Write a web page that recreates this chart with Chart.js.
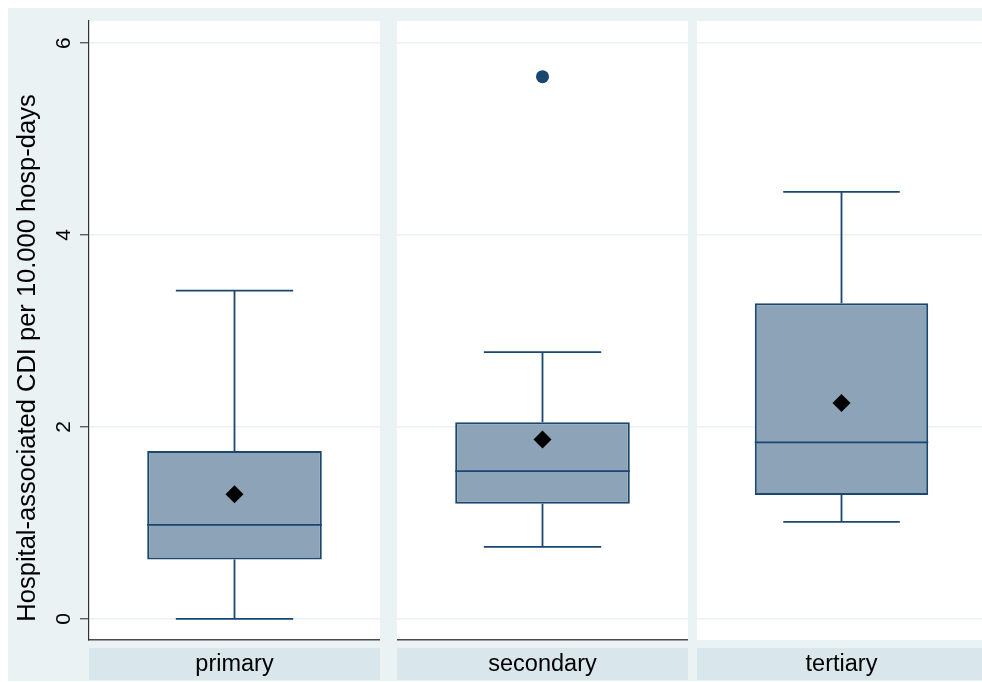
<!DOCTYPE html>
<html>
<head>
<meta charset="utf-8">
<script src="https://cdn.jsdelivr.net/npm/chart.js@4.4.0/dist/chart.umd.min.js"></script>
<style>
  html, body { margin: 0; padding: 0; width: 982px; height: 682px; overflow: hidden; background: #ffffff; }
  #frame { position: absolute; left: 8px; top: 8px; width: 974px; height: 673px; background: #EAF2F3; }
  .panel { position: absolute; top: 0; height: 682px; }
  canvas { display: block; }
</style>
</head>
<body>
<div id="frame"></div>
<div class="panel" style="left:0px;width:380px"><canvas id="p0" width="380" height="682"></canvas></div>
<div class="panel" style="left:397px;width:291px"><canvas id="p1" width="291" height="682"></canvas></div>
<div class="panel" style="left:697px;width:289px"><canvas id="p2" width="289" height="682"></canvas></div>
<script>
// Hospital type groups and their box-plot summaries
const categories   = ['primary', 'secondary', 'tertiary'];
const lowerWhisker = [0.00, 0.75, 1.01];
const q1           = [0.62, 1.20, 1.29];
const median       = [0.98, 1.54, 1.84];
const q3           = [1.75, 2.05, 3.29];
const upperWhisker = [3.42, 2.78, 4.45];
const means        = [1.30, 1.87, 2.25];
const outliers     = [[], [5.65], []];

// Y axis
const yTicks = [0, 2, 4, 6];
const yMin = -0.22;
const yMax = 6.23;
const yTitle = 'Hospital-associated CDI per 10.000 hosp-days';

const NAVY = '#1A476F';
const BOX_FILL = '#8CA3B8';
const GRID = '#EAF2F3';
const STRIP = '#D9E6EB';
const FONT = "'Liberation Sans', Arial, Helvetica, sans-serif";

// White plot region and grey label strip under each panel
const panelFrame = {
  id: 'panelFrame',
  beforeDraw(chart) {
    const { ctx, chartArea: a } = chart;
    ctx.save();
    ctx.fillStyle = '#ffffff';
    ctx.fillRect(a.left, a.top, a.right - a.left, a.bottom - a.top);
    ctx.fillStyle = STRIP;
    ctx.fillRect(a.left, a.bottom + 8, a.right - a.left, 32);
    ctx.restore();
  }
};

// Median line, whiskers and caps, placed with the chart's own scales
const boxWhiskers = {
  id: 'boxWhiskers',
  afterDatasetDraw(chart, args, opts) {
    if (args.index !== 0) return;
    const i = opts.panel;
    const bar = args.meta.data[0];
    const y = chart.scales.y;
    const ctx = chart.ctx;
    const cx = bar.x;
    const half = bar.width / 2;
    const cap = bar.width * 0.336;
    const yMed = y.getPixelForValue(median[i]);
    const yQ1 = y.getPixelForValue(q1[i]);
    const yQ3 = y.getPixelForValue(q3[i]);
    const yLo = y.getPixelForValue(lowerWhisker[i]);
    const yHi = y.getPixelForValue(upperWhisker[i]);
    ctx.save();
    ctx.strokeStyle = NAVY;
    ctx.lineWidth = 1.8;
    ctx.beginPath();
    ctx.moveTo(cx - half, yMed); ctx.lineTo(cx + half, yMed);
    ctx.moveTo(cx, yQ3); ctx.lineTo(cx, yHi);
    ctx.moveTo(cx - cap, yHi); ctx.lineTo(cx + cap, yHi);
    ctx.moveTo(cx, yQ1); ctx.lineTo(cx, yLo);
    ctx.moveTo(cx - cap, yLo); ctx.lineTo(cx + cap, yLo);
    ctx.stroke();
    ctx.restore();
  }
};

// Rotated y-axis title on the first panel
const axisTitle = {
  id: 'axisTitle',
  afterDraw(chart, args, opts) {
    if (!opts.text) return;
    const ctx = chart.ctx;
    ctx.save();
    ctx.translate(opts.x, opts.y);
    ctx.rotate(-Math.PI / 2);
    ctx.font = opts.size + 'px ' + FONT;
    ctx.fillStyle = '#000000';
    ctx.textAlign = 'center';
    ctx.textBaseline = 'middle';
    ctx.fillText(opts.text, 0, 0);
    ctx.restore();
  }
};

function makePanel(i) {
  const first = i === 0;
  const cat = categories[i];
  return new Chart(document.getElementById('p' + i), {
    type: 'bar',
    data: {
      labels: [cat],
      datasets: [
        {
          type: 'bar',
          data: [[q1[i], q3[i]]],
          backgroundColor: BOX_FILL,
          borderColor: NAVY,
          borderWidth: 2,
          borderSkipped: false,
          categoryPercentage: 1,
          barPercentage: 0.6,
          order: 2
        },
        {
          type: 'line',
          data: outliers[i].map(v => ({ x: cat, y: v })),
          showLine: false,
          pointStyle: 'circle',
          pointRadius: 6.5,
          pointBackgroundColor: NAVY,
          pointBorderColor: NAVY,
          pointBorderWidth: 0,
          order: 1
        },
        {
          type: 'line',
          data: [means[i]],
          showLine: false,
          pointStyle: 'rectRot',
          pointRadius: 9,
          pointBackgroundColor: '#000000',
          pointBorderColor: '#000000',
          pointBorderWidth: 0,
          order: 0
        }
      ]
    },
    options: {
      responsive: false,
      animation: false,
      events: [],
      layout: { autoPadding: false, padding: { top: 21, left: 0, right: 0, bottom: 0 } },
      plugins: {
        legend: { display: false },
        tooltip: { enabled: false },
        boxWhiskers: { panel: i },
        axisTitle: first ? { text: yTitle, x: 28, y: 358, size: 25.5 } : { text: '' }
      },
      scales: {
        x: {
          type: 'category',
          offset: true,
          afterFit: s => { s.height = 682 - 640; s.paddingLeft = 0; s.paddingRight = 0; },
          grid: { display: false, drawTicks: false },
          border: { display: i < 2, color: '#4a4a4a', width: 1.5 },
          ticks: {
            color: '#000000',
            font: { family: FONT, size: 23.5 },
            padding: 10,
            maxRotation: 0,
            autoSkip: false
          }
        },
        y: {
          type: 'linear',
          min: yMin,
          max: yMax,
          afterBuildTicks: s => { s.ticks = yTicks.map(v => ({ value: v })); },
          afterFit: s => { s.width = first ? 89 : 0; s.paddingTop = 0; s.paddingBottom = 0; },
          grid: {
            color: GRID,
            lineWidth: 1.5,
            drawTicks: first,
            tickLength: 9,
            tickColor: '#444444',
            tickWidth: 1.2
          },
          border: { display: first, color: '#333333', width: 1.2 },
          ticks: {
            display: first,
            minRotation: 90,
            maxRotation: 90,
            crossAlign: 'center',
            padding: 10,
            color: '#000000',
            font: { family: FONT, size: 21 }
          }
        }
      }
    },
    plugins: [panelFrame, boxWhiskers, axisTitle]
  });
}

categories.forEach((c, i) => makePanel(i));
</script>
</body>
</html>
